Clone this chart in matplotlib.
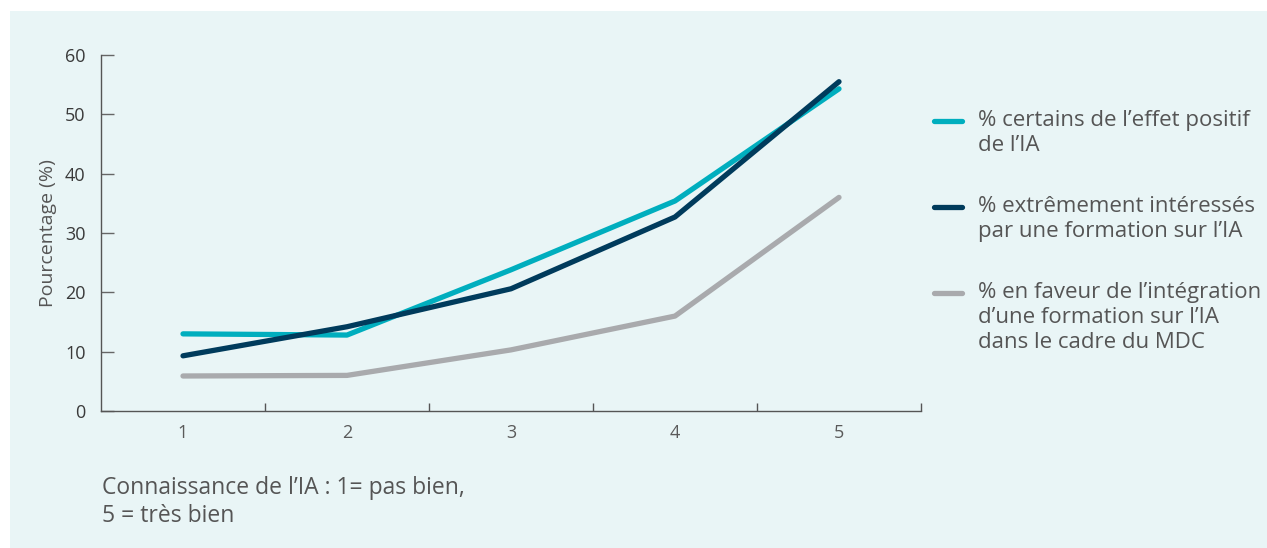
import matplotlib.pyplot as plt
from matplotlib.lines import Line2D
from matplotlib.patches import Rectangle

plt.rcParams['font.family'] = ['Open Sans', 'DejaVu Sans']

# Data
knowledge = [1, 2, 3, 4, 5]
certain_positive = [13.0, 12.8, 23.8, 35.4, 54.3]
very_interested = [9.3, 14.2, 20.6, 32.7, 55.5]
favour_integration = [5.9, 6.0, 10.3, 16.0, 36.0]

series_labels = [
    "% certains de l\u2019effet positif\nde l\u2019IA",
    "% extrêmement intéressés\npar une formation sur l\u2019IA",
    "% en faveur de l\u2019intégration\nd\u2019une formation sur l\u2019IA\ndans le cadre du MDC",
]
colors = ['#00AEBE', '#003B5C', '#A9AAAD']
bg = '#E9F5F6'
text_col = '#555555'

fig = plt.figure(figsize=(12.67, 5.48), dpi=100, facecolor='white')
fig.patches.append(Rectangle((10 / 1267, 0), 1, 1 - 11 / 548, transform=fig.transFigure,
                             facecolor=bg, edgecolor='none', zorder=-10))

ax = fig.add_axes([101 / 1267, 1 - 411 / 548, 820 / 1267, 356 / 548])
ax.set_facecolor(bg)

for vals, c in zip([certain_positive, very_interested, favour_integration], colors):
    ax.plot(knowledge, vals, color=c, lw=3.8, solid_capstyle='round', solid_joinstyle='round')

ax.set_xlim(0.5, 5.5)
ax.set_ylim(0, 60)
ax.set_yticks(range(0, 61, 10))
ax.set_xticks(knowledge)
ax.set_xticks([1.5, 2.5, 3.5, 4.5, 5.5], minor=True)
ax.tick_params(axis='x', which='major', length=0, pad=9, labelsize=13, labelcolor='#5a5a5a')
ax.tick_params(axis='x', which='minor', direction='in', length=6, width=1, color='#555555')
ax.tick_params(axis='y', direction='in', length=9, width=1, color='#666666',
               labelsize=13, labelcolor='#3a3a3a', pad=11)

for s in ['top', 'right']:
    ax.spines[s].set_visible(False)
for s in ['left', 'bottom']:
    ax.spines[s].set_color('#555555')
    ax.spines[s].set_linewidth(1)

ax.set_ylabel('Pourcentage (%)', fontsize=14, color=text_col, labelpad=6)

fig.text(102 / 1267, 1 - 502 / 548, "Connaissance de l\u2019IA : 1= pas bien,\n5 = très bien",
         fontsize=16.5, color=text_col, va='center', ha='left', linespacing=1.2)

# legend drawn by hand so the swatch sits on the first text line
legend_y = [121, 207, 293]
for y, c, lab in zip(legend_y, colors, series_labels):
    fy = 1 - y / 548
    fig.add_artist(Line2D([934 / 1267, 962 / 1267], [fy, fy], transform=fig.transFigure,
                          color=c, lw=3.8, solid_capstyle='round'))
    fig.text(978 / 1267, 1 - (y - 11) / 548, lab, fontsize=16, color=text_col,
             va='top', ha='left', linespacing=1.24)

fig.savefig('out.png', dpi=100, facecolor=fig.get_facecolor())
